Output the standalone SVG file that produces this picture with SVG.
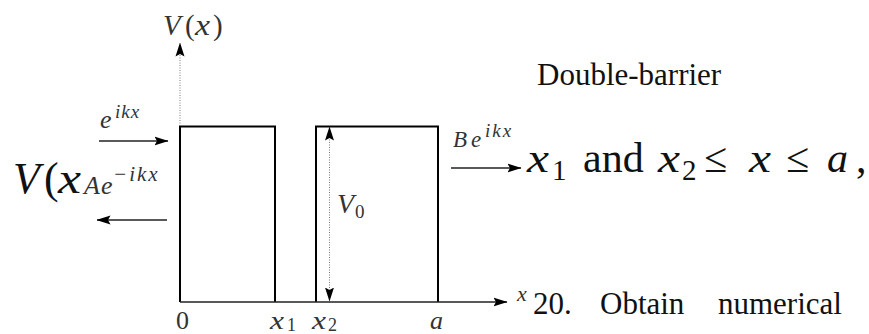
<svg xmlns="http://www.w3.org/2000/svg" width="869" height="334" viewBox="0 0 869 334" font-family="'Liberation Serif', 'Times New Roman', serif">
<defs>
<style>
.it{font-style:italic;}
.fig{fill:#333;}
.doc{fill:#111;}
.bar{fill:none;stroke:#000;stroke-width:2;}
.arr{stroke:#222;stroke-width:1.6;fill:none;}
.dot{stroke:#777;stroke-width:1;stroke-dasharray:1 1.5;fill:none;}
</style>
<marker id="ah" viewBox="0 0 14 10" refX="13.5" refY="5" markerWidth="14" markerHeight="10" orient="auto-start-reverse" markerUnits="userSpaceOnUse">
<path d="M0,0.5 L14,5 L0,9.5 L2.5,5 Z" fill="#000"/>
</marker>
</defs>
<rect width="869" height="334" fill="#fff"/>

<g id="barrier1"><path class="bar" d="M180,302 V126.5 H275 V302"/></g>
<g id="barrier2"><path class="bar" d="M316,302 V126.5 H438 V302"/></g>

<g id="connectors">
<line class="dot" x1="180" y1="126" x2="180" y2="43" marker-end="url(#ah)"/>
<line class="arr" x1="180" y1="302" x2="507" y2="302" marker-end="url(#ah)"/>
<line class="dot" x1="329.5" y1="127" x2="329.5" y2="301" marker-start="url(#ah)" marker-end="url(#ah)"/>
<line class="arr" x1="99" y1="141" x2="168" y2="141" marker-end="url(#ah)"/>
<line class="arr" x1="167" y1="220" x2="97" y2="220" marker-end="url(#ah)"/>
<line class="arr" x1="451" y1="168" x2="521" y2="168" marker-end="url(#ah)"/>
</g>

<g id="labels" class="fig">
<g id="label-Vx" font-size="29">
<text x="163" y="35" class="it">V</text><text x="185" y="35">(</text><text x="195" y="35" class="it" textLength="15" lengthAdjust="spacingAndGlyphs">x</text><text x="213" y="35">)</text>
</g>
<g id="label-V0">
<text x="337" y="213" font-size="28" class="it">V</text><text x="355" y="218" font-size="19">0</text>
</g>
<g id="label-incident" class="it">
<text x="100" y="128" font-size="26">e</text>
<text x="115" y="118" font-size="19" letter-spacing="1">ikx</text>
</g>
<g id="label-reflected" class="it">
<text x="84" y="194" font-size="26">A</text>
<text x="101" y="194" font-size="26">e</text>
<text x="113" y="181" font-size="21" letter-spacing="2">−ikx</text>
</g>
<g id="label-transmitted" class="it">
<text x="453" y="147" font-size="23">B</text>
<text x="471" y="147" font-size="23">e</text>
<text x="485" y="137" font-size="19" letter-spacing="2">ikx</text>
</g>
<text font-size="22" class="it" x="517" y="301">x</text>
<text font-size="26" x="176" y="329">0</text>
<g id="tick-x1"><text x="270" y="329" font-size="26" class="it" textLength="14" lengthAdjust="spacingAndGlyphs">x</text><text x="287" y="331" font-size="18">1</text></g>
<g id="tick-x2"><text x="312" y="329" font-size="26" class="it" textLength="14" lengthAdjust="spacingAndGlyphs">x</text><text x="328" y="331" font-size="18">2</text></g>
<text font-size="26" class="it" x="430" y="329">a</text>
</g>

<g id="doctext" class="doc">
<text font-size="31" x="537" y="85">Double-barrier</text>
<g id="big-Vx" font-size="44">
<text x="13" y="193" class="it">V</text><text x="44" y="193">(</text><text x="58" y="193" class="it" textLength="23" lengthAdjust="spacingAndGlyphs">x</text>
</g>
<g id="big-math" font-size="42">
<text x="527" y="172" class="it" textLength="22" lengthAdjust="spacingAndGlyphs">x</text>
<text x="552" y="180" font-size="29">1</text>
<text x="583" y="172">and</text>
<text x="658" y="172" class="it" textLength="22" lengthAdjust="spacingAndGlyphs">x</text>
<text x="682" y="180" font-size="29">2</text>
<text x="704" y="172">≤</text>
<text x="749" y="172" class="it" textLength="22" lengthAdjust="spacingAndGlyphs">x</text>
<text x="786" y="172">≤</text>
<text x="827" y="172" class="it">a</text>
<text x="856" y="172">,</text>
</g>
<text font-size="31"><tspan x="533" y="314">20.</tspan><tspan x="600" y="314">Obtain</tspan><tspan x="718" y="314">numerical</tspan></text>
</g>
</svg>
